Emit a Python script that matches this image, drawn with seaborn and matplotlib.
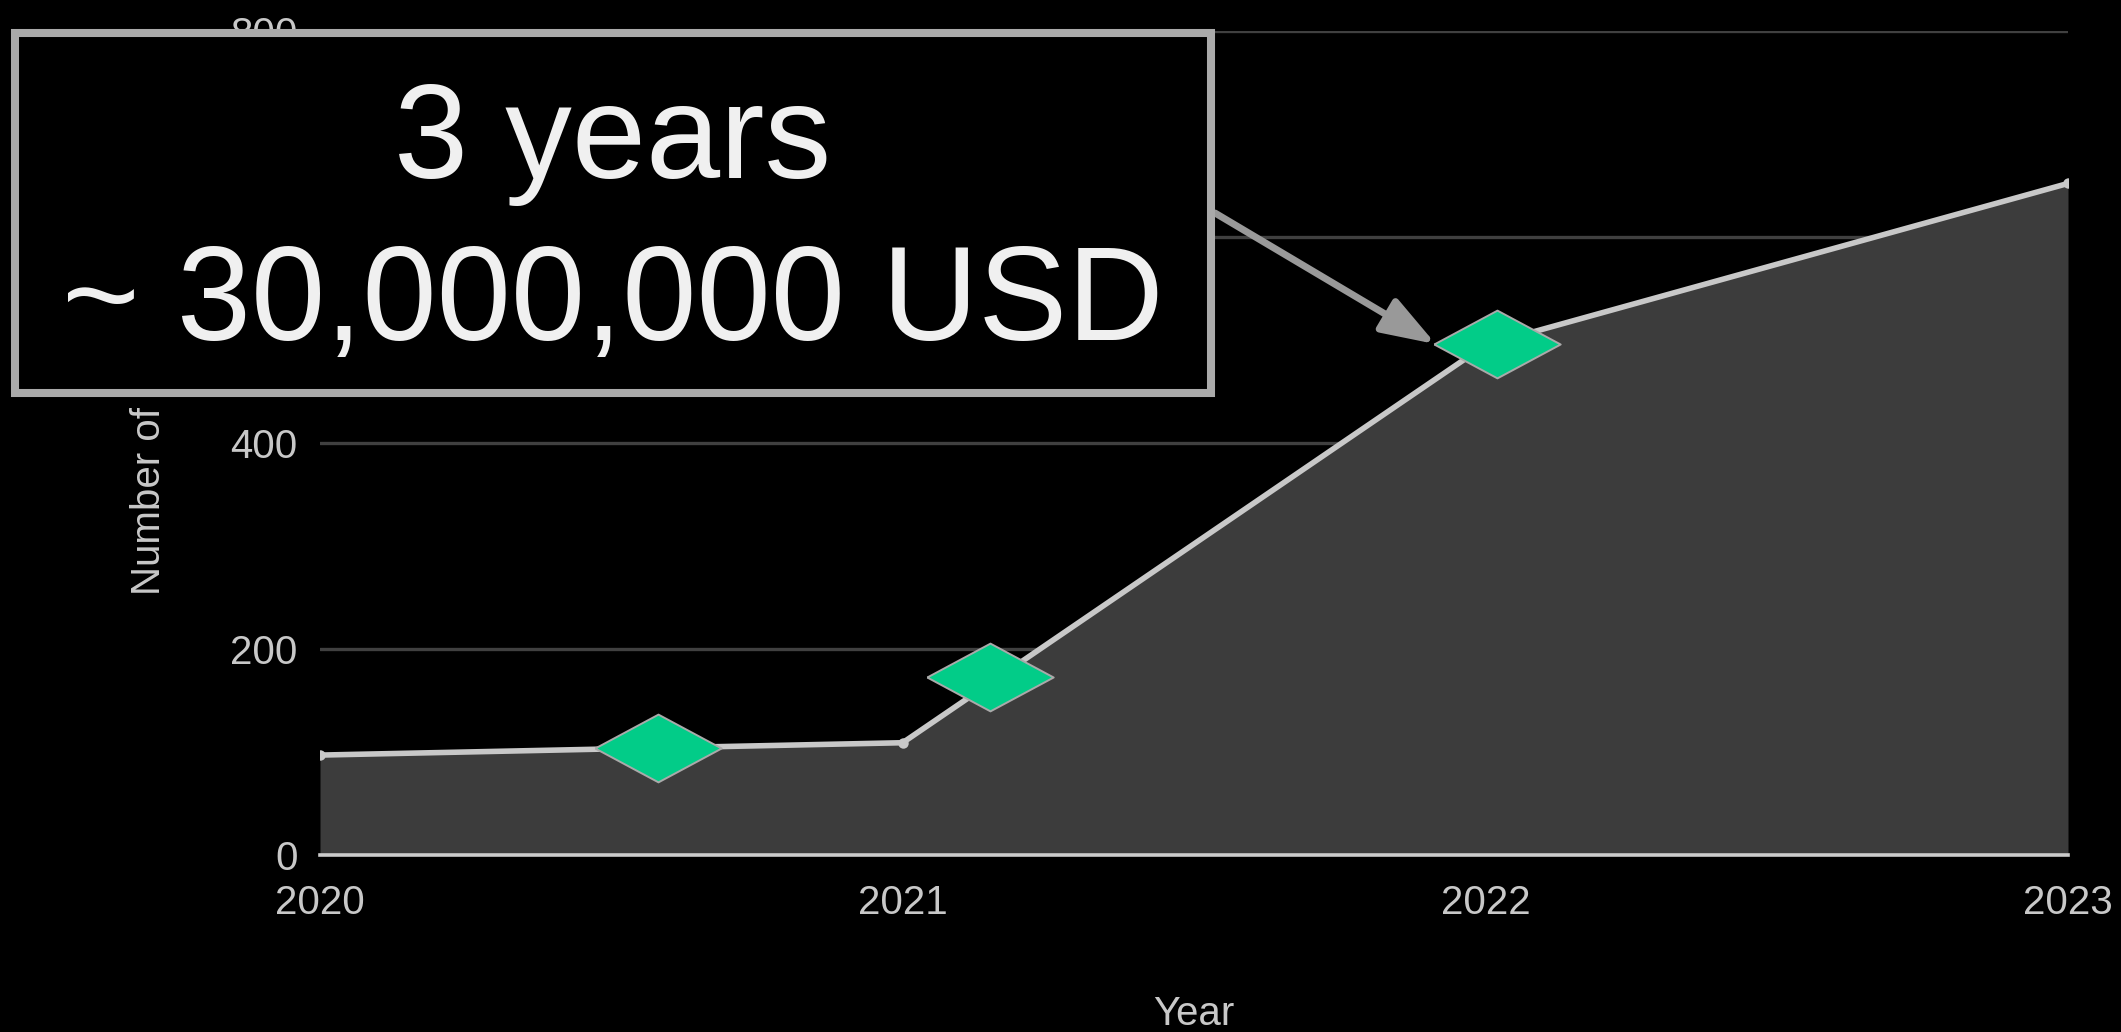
import matplotlib
matplotlib.use("Agg")
import matplotlib.pyplot as plt
from matplotlib.patches import Rectangle
import seaborn as sns

# Yearly totals
years = [2020, 2021, 2022, 2023]
users = [97, 109, 495, 652]

# Milestone diamonds placed along the curve
milestone_x = [2020.58, 2021.15, 2022.02]
milestone_y = [104, 173, 496]

y_ticks = [0, 200, 400, 600, 800]
x_ticks = [2020, 2021, 2022, 2023]

callout_lines = ["3 years", "~ 30,000,000 USD"]

sns.set_theme(style="dark")
plt.rcParams["font.family"] = ["Liberation Sans", "DejaVu Sans"]
plt.rcParams["figure.facecolor"] = "black"
plt.rcParams["axes.facecolor"] = "black"

W, H = 2121, 1032
fig = plt.figure(figsize=(W / 100, H / 100), dpi=100)
ax = fig.add_axes([320 / W, (H - 855) / H, 1748 / W, 824 / H])
ax.set_facecolor("black")

# Shaded area under the curve
ax.fill_between(years, users, 0, color="#3c3c3c", lw=0, zorder=1)

# Curve with small point markers
sns.lineplot(x=years, y=users, ax=ax, color="#c8c8c8", lw=4.0,
             marker="o", markersize=7.5, markeredgewidth=0, zorder=4)

# Green milestone diamonds (wider than tall)
diamond = [(-1, 0), (0, 0.536), (1, 0), (0, -0.536), (-1, 0)]
sns.scatterplot(x=milestone_x, y=milestone_y, ax=ax, marker=diamond, s=91 ** 2,
                color="#02cc88", edgecolor="#aaaaaa", linewidth=1.4, zorder=5)

ax.set_xlim(2020, 2023)
ax.set_ylim(0, 800)
ax.set_xticks(x_ticks)
ax.set_xticklabels([str(t) for t in x_ticks])
ax.set_yticks(y_ticks)
ax.set_yticklabels([str(t) for t in y_ticks])

ax.yaxis.grid(True, color="#404040", lw=2.4)
ax.xaxis.grid(False)
ax.set_axisbelow(True)
for side in ("top", "right", "left"):
    ax.spines[side].set_visible(False)
ax.spines["bottom"].set_color("#cccccc")
ax.spines["bottom"].set_linewidth(2.6)
ax.spines["bottom"].set_zorder(4.5)

ax.tick_params(axis="x", length=0, pad=21, labelsize=29, labelcolor="#c8c8c8")
ax.tick_params(axis="y", length=0, pad=16, labelsize=29, labelcolor="#c8c8c8")

ax.set_xlabel("Year", fontsize=29, color="#c8c8c8")
ax.xaxis.label.set_va("baseline")
ax.xaxis.set_label_coords(0.5, (855 - 1025) / 824)
ax.set_ylabel("Number of Users", fontsize=29, color="#c8c8c8")
ax.yaxis.label.set_va("baseline")
ax.yaxis.set_label_coords((160 - 320) / 1748, 0.5)

# Arrow from the callout box to the 2022 milestone
ax.annotate("", xy=(2021.915, 496), xycoords="data",
            xytext=(1215 / W, 1 - 213 / H), textcoords="figure fraction",
            arrowprops=dict(arrowstyle="-|>,head_length=33,head_width=11.5",
                            mutation_scale=1, color="#999999", lw=5,
                            shrinkA=0, shrinkB=0),
            zorder=6)

# Callout box with the headline figures
box = Rectangle((15 / W, (H - 393) / H), 1196 / W, 360 / H,
                transform=fig.transFigure, facecolor="black",
                edgecolor="#aaaaaa", lw=5.8, zorder=10)
fig.add_artist(box)
fig.text(613 / W, (H - 178) / H, callout_lines[0], ha="center", va="baseline",
         fontsize=96, color="#f0f0f0", zorder=11)
fig.text(613 / W, (H - 340) / H, callout_lines[1], ha="center", va="baseline",
         fontsize=96, color="#f0f0f0", zorder=11)

fig.savefig("out.png", dpi=100, facecolor="black")
